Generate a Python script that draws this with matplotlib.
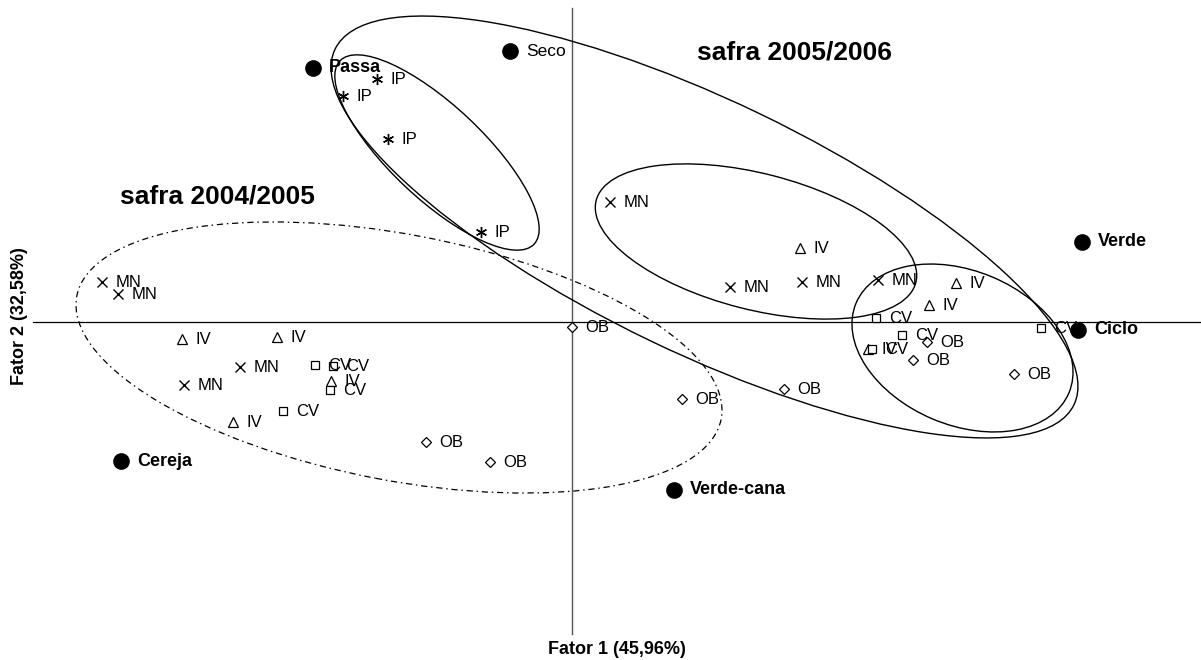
import matplotlib
matplotlib.use("Agg")
import matplotlib.pyplot as plt
from matplotlib.patches import Ellipse

# ---- data (factor scores) ----
mn_x = [-4.70, -4.54, -3.88, -3.32, 0.38, 1.58, 2.30, 3.06]
mn_y = [0.40, 0.28, -0.63, -0.45, 1.20, 0.35, 0.40, 0.42]

iv_x = [-3.90, -2.95, -2.41, -3.39, 2.28, 3.84, 3.57, 2.96]
iv_y = [-0.17, -0.15, -0.59, -1.00, 0.74, 0.39, 0.17, -0.27]

cv_x = [-2.57, -2.39, -2.42, -2.89, 3.04, 3.30, 3.00, 4.69]
cv_y = [-0.43, -0.44, -0.68, -0.89, 0.04, -0.13, -0.27, -0.06]

ob_x = [0.00, 1.10, 2.12, -1.46, -0.82, 3.55, 3.41, 4.42]
ob_y = [-0.05, -0.77, -0.67, -1.20, -1.40, -0.20, -0.38, -0.52]

ip_x = [-1.95, -2.29, -1.84, -0.91]
ip_y = [2.43, 2.26, 1.83, 0.90]

attr_names = ["Passa", "Seco", "Verde", "Ciclo", "Cereja", "Verde-cana"]
attr_x = [-2.59, -0.62, 5.10, 5.06, -4.51, 1.02]
attr_y = [2.54, 2.71, 0.80, -0.08, -1.39, -1.68]
attr_bold = [True, False, True, True, True, True]

groups = [
    ("MN", mn_x, mn_y),
    ("IV", iv_x, iv_y),
    ("CV", cv_x, cv_y),
    ("OB", ob_x, ob_y),
    ("IP", ip_x, ip_y),
]

# ellipses: (cx, cy, width, height, angle, linestyle)
ellipses = [
    (-1.73, -0.355, 6.56, 2.46, -10.8, "dashdot"),
    (1.325, 0.95, 8.20, 2.52, -25.7, "solid"),
    (1.84, 0.805, 3.30, 1.36, -14.4, "solid"),
    (3.905, -0.26, 2.31, 1.54, -22.9, "solid"),
    (-1.35, 1.695, 2.67, 0.93, -43.35, "solid"),
]

group_titles = ["safra 2004/2005", "safra 2005/2006"]

NARROW = ["Liberation Sans Narrow", "Liberation Sans", "DejaVu Sans"]
BOLDF = ["Liberation Sans", "DejaVu Sans"]

fig = plt.figure(figsize=(12.01, 6.60), dpi=100)
ax = fig.add_axes([0, 0, 1, 1])
ax.set_xlim(-5.72, 6.29)
ax.set_ylim(-3.38, 3.22)
ax.axis("off")

# axis lines
ax.plot([-5.39, 6.29], [0, 0], color="black", lw=0.9, zorder=1)
ax.plot([0, 0], [3.14, -3.12], color="#555555", lw=1.0, zorder=1)

# ellipses
for cx, cy, w, h, ang, ls in ellipses:
    if ls == "dashdot":
        e = Ellipse((cx, cy), w, h, angle=ang, fill=False, lw=0.9,
                    edgecolor="black", linestyle=(0, (5, 3, 1.2, 3)))
    else:
        e = Ellipse((cx, cy), w, h, angle=ang, fill=False, lw=1.0,
                    edgecolor="black")
    ax.add_patch(e)

styles = {
    "MN": dict(marker="x", ms=7, mew=1.0, mec="black"),
    "IV": dict(marker="^", ms=7, mew=0.9, mec="black", mfc="white"),
    "CV": dict(marker="s", ms=5.5, mew=0.9, mec="black", mfc="white"),
    "OB": dict(marker="D", ms=4.6, mew=0.9, mec="black", mfc="white"),
    "IP": dict(marker=(6, 2, 0), ms=8, mew=1.0, mec="black"),
}

for name, xs, ys in groups:
    ax.plot(xs, ys, linestyle="none", zorder=3, **styles[name])
    for x, y in zip(xs, ys):
        ax.annotate(name, (x, y), xytext=(9.5, -0.5), textcoords="offset points",
                    ha="left", va="center", fontsize=12, family=NARROW,
                    color="black", zorder=4)

ax.plot(attr_x, attr_y, linestyle="none", marker="o", ms=11, color="black", zorder=3)
for n, x, y, b in zip(attr_names, attr_x, attr_y, attr_bold):
    ax.annotate(n, (x, y), xytext=(11.5, 0), textcoords="offset points",
                ha="left", va="center", fontsize=13 if b else 12.5,
                fontweight="bold" if b else "normal", family=NARROW, zorder=4)

# group titles
ax.text(-4.52, 1.25, group_titles[0], ha="left", va="center", fontsize=19,
        fontweight="bold", family=BOLDF)
ax.text(1.25, 2.69, group_titles[1], ha="left", va="center", fontsize=19,
        fontweight="bold", family=BOLDF)

# axis titles
ax.text(0.45, -3.28, "Fator 1 (45,96%)", ha="center", va="center", fontsize=13,
        fontweight="bold", family=NARROW)
ax.text(-5.52, 0.06, "Fator 2 (32,58%)", ha="center", va="center", fontsize=13,
        fontweight="bold", family=NARROW, rotation=90)

fig.savefig("out.png", dpi=100)
